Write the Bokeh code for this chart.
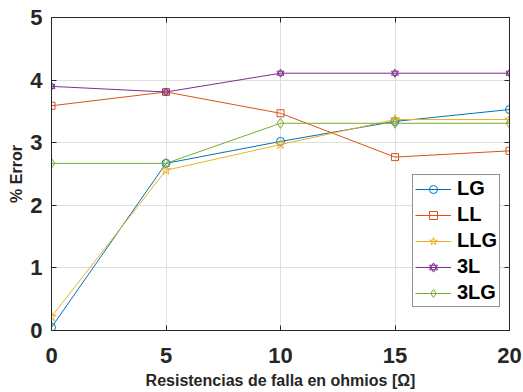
from bokeh.plotting import figure
from bokeh.models import Range1d, LinearAxis, FixedTicker, Legend, LegendItem
from bokeh.embed import file_html
from bokeh.resources import INLINE

# Fault resistance (ohms) and percentage error for each fault type
resistance = [0, 5, 10, 15, 20]
err_lg = [0.05, 2.67, 3.02, 3.34, 3.53]
err_ll = [3.59, 3.81, 3.47, 2.77, 2.87]
err_llg = [0.22, 2.56, 2.97, 3.37, 3.37]
err_3l = [3.90, 3.81, 4.11, 4.11, 4.11]
err_3lg = [2.67, 2.67, 3.31, 3.31, 3.31]

x_ticks = [0, 5, 10, 15, 20]
y_ticks = [0, 1, 2, 3, 4, 5]

AX = "#262626"
FONT = "Liberation Sans"

p = figure(width=523, height=392, output_backend="svg", toolbar_location=None,
           x_range=Range1d(0, 20), y_range=Range1d(0, 5),
           min_border_left=51, min_border_right=14, min_border_top=17,
           min_border_bottom=62, x_axis_label="Resistencias de falla en ohmios [Ω]",
           y_axis_label="% Error")
p.background_fill_color = "white"
p.border_fill_color = "white"
p.outline_line_color = AX
p.outline_line_width = 1

for ax, ticks in ((p.xaxis[0], x_ticks), (p.yaxis[0], y_ticks)):
    ax.ticker = FixedTicker(ticks=ticks)
    ax.major_tick_in = 5
    ax.major_tick_out = 0
    ax.minor_tick_line_color = None
    ax.axis_line_color = AX
    ax.major_tick_line_color = AX
    ax.major_label_text_font = FONT
    ax.major_label_text_font_style = "bold"
    ax.major_label_text_font_size = "22px"
    ax.major_label_text_color = AX
    ax.axis_label_text_font = FONT
    ax.axis_label_text_font_style = "bold"
    ax.axis_label_text_font_size = "16px"
    ax.axis_label_text_color = AX

p.xaxis.major_label_standoff = 17
p.xaxis.axis_label_standoff = 6
p.yaxis.major_label_standoff = 9
p.yaxis.axis_label_standoff = 2

# Box ticks on the top and right edges, without labels
top = LinearAxis(ticker=FixedTicker(ticks=x_ticks), major_tick_in=5, major_tick_out=0,
                 minor_tick_line_color=None, axis_line_color=AX, major_tick_line_color=AX,
                 major_label_overrides={t: "" for t in x_ticks}, major_label_standoff=0)
right = LinearAxis(ticker=FixedTicker(ticks=y_ticks), major_tick_in=5, major_tick_out=0,
                   minor_tick_line_color=None, axis_line_color=AX, major_tick_line_color=AX,
                   major_label_overrides={t: "" for t in y_ticks}, major_label_standoff=0)
p.add_layout(top, "above")
p.add_layout(right, "right")

for g in (p.xgrid[0], p.ygrid[0]):
    g.grid_line_color = "#dfdfdf"
    g.grid_line_width = 1
p.xgrid[0].ticker = FixedTicker(ticks=x_ticks)
p.ygrid[0].ticker = FixedTicker(ticks=y_ticks)

series = [
    ("LG", err_lg, "#0072BD", ["circle"], 8),
    ("LL", err_ll, "#D95319", ["square"], 7),
    ("LLG", err_llg, "#EDB120", ["star"], 10),
    ("3L", err_3l, "#7E2F8E", ["triangle", "inverted_triangle"], 7),
    ("3LG", err_3lg, "#77AC30", ["diamond"], 10),
]

items = []
for name, vals, color, markers, size in series:
    rs = [p.line(resistance, vals, line_color=color, line_width=1)]
    for m in markers:
        rs.append(p.scatter(resistance, vals, marker=m, size=size, line_color=color,
                            fill_color=None, line_width=1))
    items.append(LegendItem(label=name, renderers=rs))

legend = Legend(items=items, location=(361, 23))
legend.label_text_font = FONT
legend.label_text_font_style = "bold"
legend.label_text_font_size = "20px"
legend.label_text_color = "black"
legend.glyph_width = 36
legend.glyph_height = 20
legend.label_height = 20
legend.spacing = 3
legend.padding = 2
legend.label_standoff = 6
legend.border_line_color = AX
legend.border_line_width = 1
legend.background_fill_color = "white"
legend.background_fill_alpha = 1
p.add_layout(legend, "center")

open("out.html", "w").write(file_html(p, INLINE))
